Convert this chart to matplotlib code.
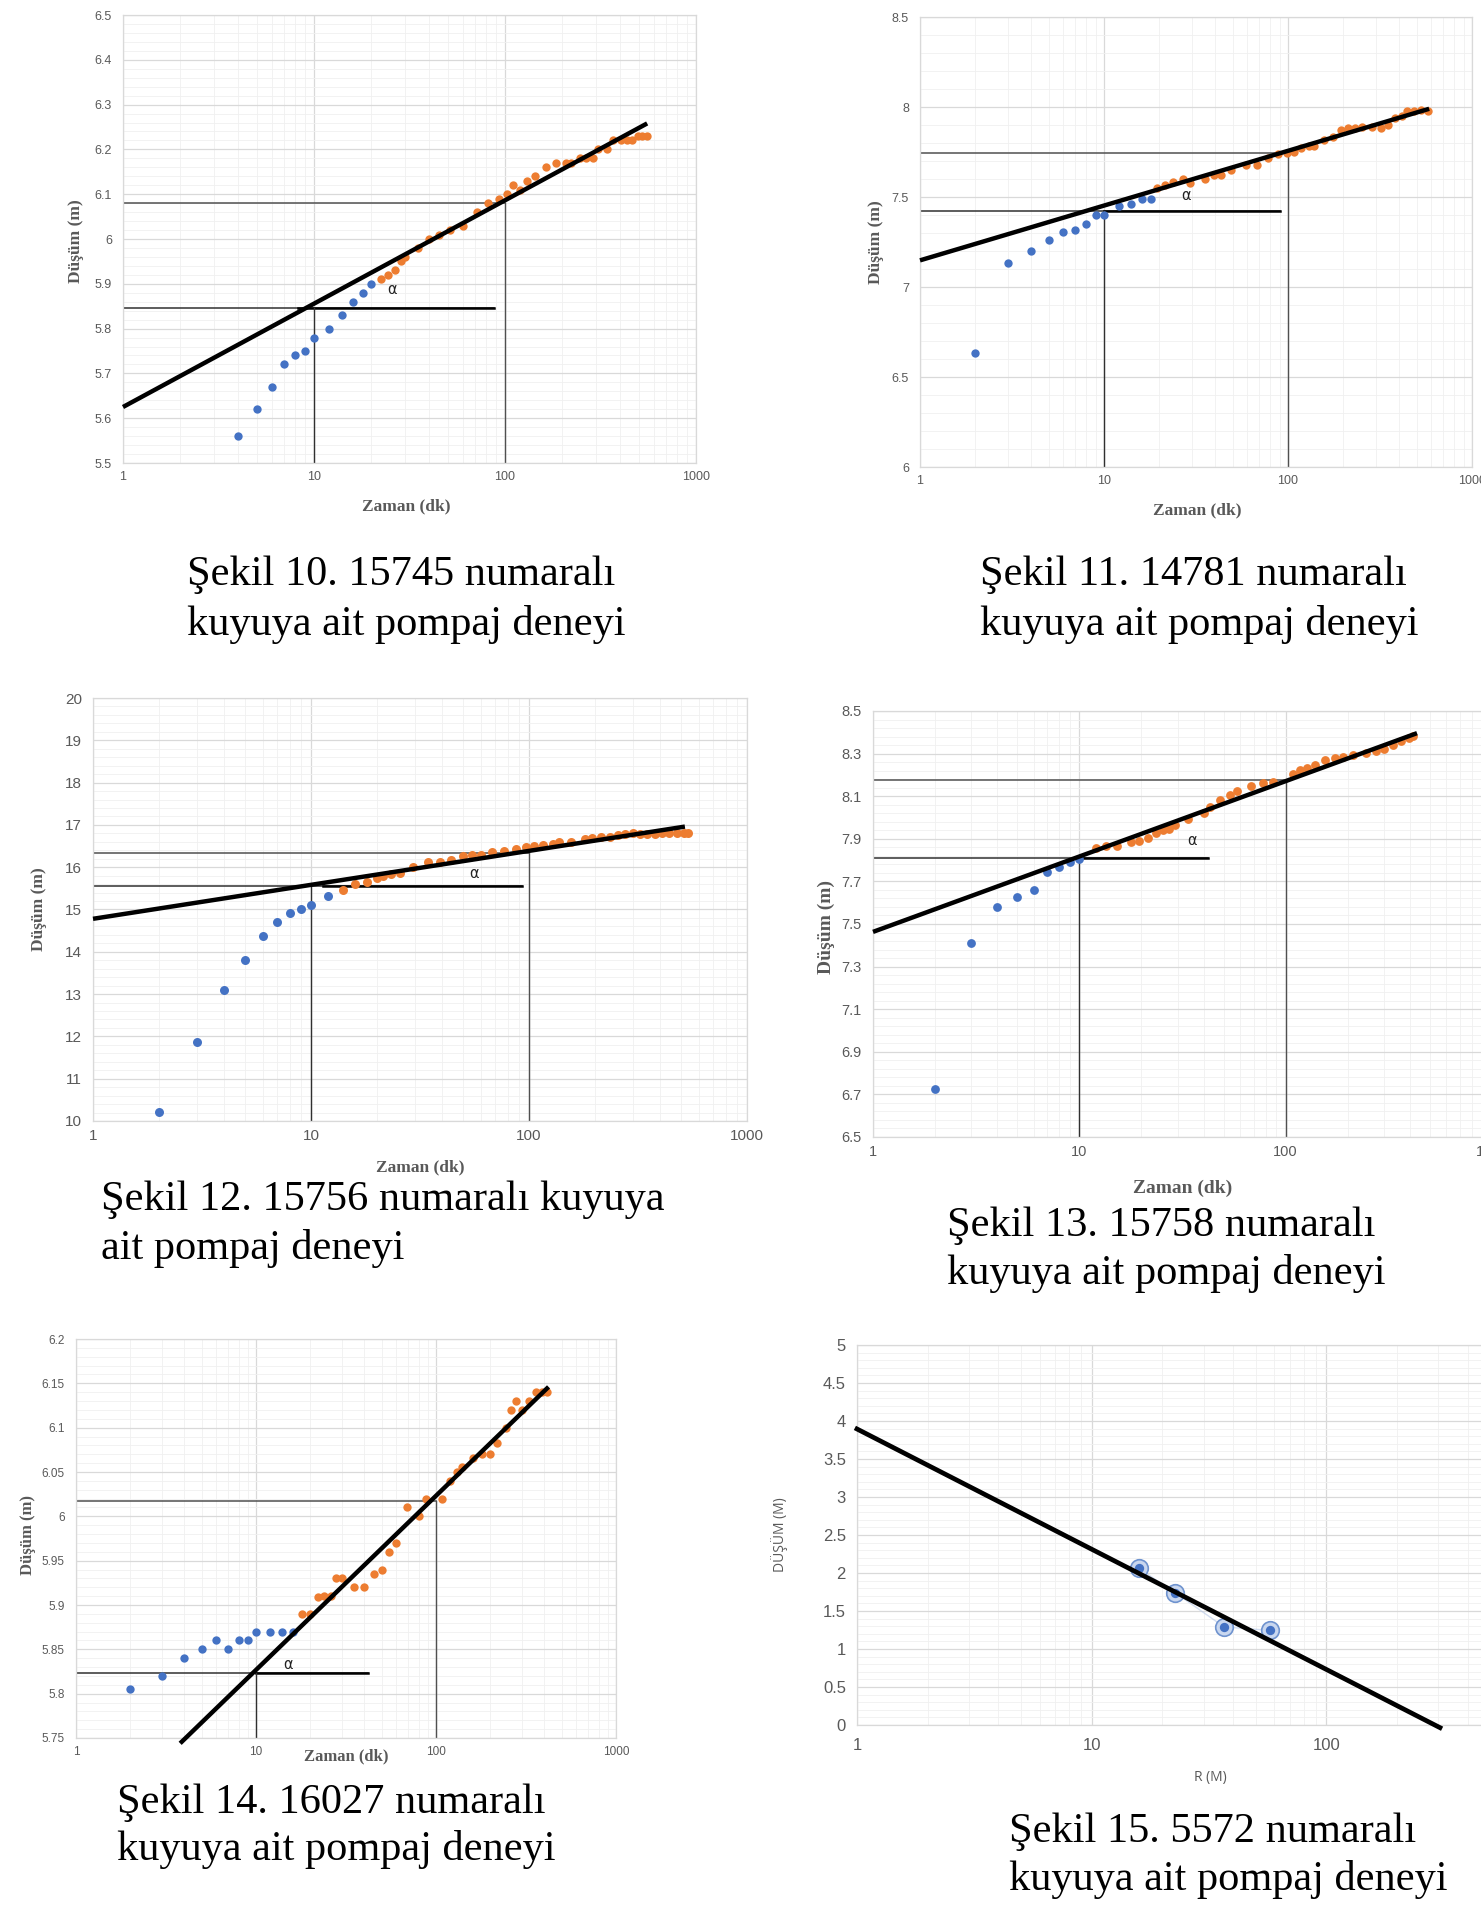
import numpy as np
import matplotlib
matplotlib.use("Agg")
import matplotlib.pyplot as plt
from matplotlib.ticker import (FixedLocator, LogLocator, NullFormatter,
                               FuncFormatter, AutoMinorLocator)

# --- Şekil 10 (kuyu 15745) ---
t10_early = [4, 5, 6, 7, 8, 9, 10, 12, 14, 16, 18, 20]
s10_early = [5.56, 5.62, 5.67, 5.72, 5.74, 5.75, 5.78, 5.80, 5.83, 5.86, 5.88, 5.90]
t10_late = [22.5, 24.4, 26.6, 28.4, 30, 35, 40, 45, 51.5, 60.5, 71, 81.5, 93, 102,
            110, 120, 130, 143, 164, 185, 208, 222, 247, 267, 288, 308, 344, 366,
            403, 434, 465, 495, 524, 555]
s10_late = [5.91, 5.92, 5.93, 5.95, 5.96, 5.98, 6.00, 6.01, 6.02, 6.03, 6.06, 6.08,
            6.09, 6.10, 6.12, 6.11, 6.13, 6.14, 6.16, 6.17, 6.17, 6.17, 6.18, 6.18,
            6.18, 6.20, 6.20, 6.22, 6.22, 6.22, 6.22, 6.23, 6.23, 6.23]
fit10_t = [1, 555]
fit10_s = [5.625, 6.258]

# --- Şekil 11 (kuyu 14781) ---
t11_early = [2, 3, 4, 5, 6, 7, 8, 9, 10, 12, 14, 16, 18]
s11_early = [6.635, 7.133, 7.20, 7.262, 7.303, 7.316, 7.348, 7.40, 7.40, 7.451,
             7.462, 7.487, 7.487]
t11_late = [19.5, 21.4, 23.8, 27, 29.5, 35.2, 39.6, 43.3, 48.7, 59, 68, 78, 88, 99,
            108, 118, 130, 139, 156, 176, 195, 213, 232, 254, 285, 321, 351, 383,
            418, 443, 484, 529, 578]
s11_late = [7.55, 7.567, 7.582, 7.60, 7.58, 7.60, 7.62, 7.62, 7.648, 7.676, 7.68,
            7.717, 7.74, 7.747, 7.75, 7.77, 7.785, 7.785, 7.817, 7.835, 7.873, 7.886,
            7.886, 7.89, 7.89, 7.886, 7.90, 7.94, 7.95, 7.98, 7.98, 7.985, 7.98]
fit11_t = [1, 585]
fit11_s = [7.148, 7.99]

# --- Şekil 12 (kuyu 15756) ---
t12_early = [2, 3, 4, 5, 6, 7, 8, 9, 10, 12]
s12_early = [10.21, 11.87, 13.09, 13.80, 14.37, 14.71, 14.92, 15.00, 15.11, 15.32]
t12_late = [14, 16, 18, 20, 21.4, 23.4, 25.7, 29.5, 34.3, 39, 43.7, 49.9, 55, 60,
            67.6, 77, 87, 97, 105, 116, 129, 137, 156, 180, 194, 214, 235, 257,
            277, 299, 324, 349, 377, 408, 440, 475, 513, 535]
s12_late = [15.45, 15.61, 15.65, 15.74, 15.79, 15.85, 15.86, 16.00, 16.12, 16.13,
            16.17, 16.26, 16.28, 16.28, 16.35, 16.38, 16.44, 16.47, 16.51, 16.53,
            16.55, 16.60, 16.60, 16.67, 16.69, 16.71, 16.72, 16.76, 16.78, 16.80,
            16.78, 16.78, 16.78, 16.80, 16.80, 16.80, 16.81, 16.81]
fit12_t = [1, 519]
fit12_s = [14.78, 16.96]

# --- Şekil 13 (kuyu 15758) ---
t13_early = [2, 3, 4, 5, 6, 7, 8, 9, 10]
s13_early = [6.725, 7.413, 7.58, 7.625, 7.66, 7.742, 7.768, 7.792, 7.803]
t13_late = [12, 13.5, 15.3, 17.8, 19.5, 21.6, 23.6, 25.3, 27.2, 29, 33.8, 40, 43,
            47.9, 53.7, 58, 68, 78, 86.5, 109, 118, 127, 138, 155, 173, 190, 213,
            246, 273, 298, 330, 362, 395, 416]
s13_late = [7.857, 7.868, 7.868, 7.883, 7.89, 7.903, 7.927, 7.939, 7.946, 7.965,
            7.993, 8.02, 8.048, 8.082, 8.104, 8.123, 8.147, 8.16, 8.166, 8.206,
            8.221, 8.234, 8.247, 8.271, 8.28, 8.284, 8.294, 8.303, 8.312, 8.322,
            8.34, 8.359, 8.374, 8.383]
fit13_t = [1, 433]
fit13_s = [7.463, 8.396]

# --- Şekil 14 (kuyu 16027) ---
t14_early = [2, 3, 4, 5, 6, 7, 8, 9, 10, 12, 14, 16]
s14_early = [5.805, 5.82, 5.84, 5.85, 5.86, 5.85, 5.86, 5.86, 5.87, 5.87, 5.87, 5.87]
t14_late = [18, 20, 22, 24, 26, 28, 30, 35, 40, 45, 50, 55, 60, 69, 80, 88, 108,
            119, 130, 139, 161, 181, 200, 217, 244, 260, 278, 301, 328, 361, 390, 416]
s14_late = [5.89, 5.89, 5.909, 5.91, 5.91, 5.93, 5.93, 5.92, 5.92, 5.935, 5.94,
            5.96, 5.97, 6.01, 6.00, 6.02, 6.02, 6.04, 6.05, 6.056, 6.066, 6.07,
            6.07, 6.083, 6.10, 6.12, 6.13, 6.12, 6.13, 6.14, 6.14, 6.14]
fit14_t = [3.79, 422]
fit14_s = [5.744, 6.146]

# --- Şekil 15 (kuyu 5572), mesafe-düşüm ---
r15 = [15.9, 22.7, 36.7, 57.6]
s15 = [2.06, 1.74, 1.29, 1.245]
fit15_r = [1, 305]
fit15_s = [3.895, -0.035]

W, H = 1481, 1926
BLUE = '#4472C4'
ORANGE = '#ED7D31'
GRAYTXT = '#595959'
SERIF = ['Liberation Serif', 'DejaVu Serif']
plt.rcParams['font.family'] = ['Liberation Sans Narrow', 'Liberation Sans', 'DejaVu Sans']

fig = plt.figure(figsize=(W / 100, H / 100), dpi=100)


def add_px_axes(left, top, right, bottom):
    return fig.add_axes([left / W, 1 - bottom / H, (right - left) / W, (bottom - top) / H])


def ftext(x, y, s, **kw):
    fig.text(x / W, 1 - y / H, s, **kw)


def style(ax, ylim, ystep, tsize):
    ax.set_xscale('log')
    ax.set_xlim(1, 1000)
    ax.set_ylim(*ylim)
    ax.xaxis.set_major_locator(FixedLocator([1, 10, 100, 1000]))
    ax.xaxis.set_minor_locator(LogLocator(base=10, subs=np.arange(2, 10)))
    ax.xaxis.set_minor_formatter(NullFormatter())
    ax.xaxis.set_major_formatter(FuncFormatter(lambda v, _: f'{v:g}'))
    yt = np.arange(ylim[0], ylim[1] + ystep / 2, ystep)
    ax.yaxis.set_major_locator(FixedLocator(yt))
    ax.yaxis.set_minor_locator(AutoMinorLocator(5))
    ax.yaxis.set_major_formatter(FuncFormatter(lambda v, _: f'{round(v, 4):g}'))
    ax.grid(which='major', color='#d9d9d9', lw=0.9)
    ax.grid(which='minor', color='#f0f0f0', lw=0.6)
    ax.set_axisbelow(True)
    for sp in ax.spines.values():
        sp.set_color('#d9d9d9')
        sp.set_linewidth(0.9)
    ax.tick_params(which='both', length=0, labelsize=tsize, labelcolor=GRAYTXT)
    ax.tick_params(axis='y', pad=8)
    ax.tick_params(axis='x', pad=6)


def pump_panel(ax, te, se, tl, sl, ft, fs, low, high, low_end, thick_from,
               alpha_at, ms=36):
    y0 = ax.get_ylim()[0]
    # construction lines for the slope
    ax.plot([1, 100], [high, high], color='#505050', lw=1.1)
    ax.plot([100, 100], [y0, high], color='#505050', lw=1.0)
    ax.plot([1, low_end], [low, low], color='#303030', lw=1.1)
    ax.plot([thick_from, low_end], [low, low], color='black', lw=1.8)
    ax.plot([10, 10], [y0, low], color='#303030', lw=1.0)
    ax.text(alpha_at[0], alpha_at[1], 'α', fontsize=10.5, color='#222222',
            ha='center', va='center', family='DejaVu Sans')
    ax.scatter(te, se, s=ms, color=BLUE, zorder=3, linewidths=0)
    ax.scatter(tl, sl, s=ms, color=ORANGE, zorder=3, linewidths=0)
    ax.plot(ft, fs, color='black', lw=3.2, zorder=4, solid_capstyle='butt',
            clip_on=False)


def serif_labels(xl, yl, size=12.5):
    ftext(*xl, 'Zaman (dk)', fontsize=size, fontweight='bold', family=SERIF,
          color=GRAYTXT, ha='center', va='center')
    ftext(*yl, 'Düşüm (m)', fontsize=size, fontweight='bold', family=SERIF,
          color=GRAYTXT, ha='center', va='center', rotation=90)


def caption(x, y1, y2, l1, l2):
    for y, s in ((y1, l1), (y2, l2)):
        ftext(x, y, s, fontsize=30.5, family=SERIF, color='black',
              ha='left', va='center')


# Şekil 10
ax1 = add_px_axes(123, 15, 696, 463)
style(ax1, (5.5, 6.5), 0.1, 9)
pump_panel(ax1, t10_early, s10_early, t10_late, s10_late, fit10_t, fit10_s,
           5.846, 6.08, 88, 8.2, (25.7, 5.887))
serif_labels((406, 506), (76, 241))
caption(187, 575, 624, 'Şekil 10. 15745 numaralı', 'kuyuya ait pompaj deneyi')

# Şekil 11
ax2 = add_px_axes(920, 17, 1472, 467)
style(ax2, (6, 8.5), 0.5, 9)
pump_panel(ax2, t11_early, s11_early, t11_late, s11_late, fit11_t, fit11_s,
           7.423, 7.745, 90, 10, (27.9, 7.507))
serif_labels((1197, 510), (876, 242))
caption(980, 575, 624, 'Şekil 11. 14781 numaralı', 'kuyuya ait pompaj deneyi')

# Şekil 12
ax3 = add_px_axes(93, 698, 747, 1121)
style(ax3, (10, 20), 1, 11)
pump_panel(ax3, t12_early, s12_early, t12_late, s12_late, fit12_t, fit12_s,
           15.56, 16.33, 93, 11.4, (56, 15.86), ms=42)
serif_labels((420, 1167), (39, 909))
caption(101, 1200, 1248, 'Şekil 12. 15756 numaralı kuyuya', 'ait pompaj deneyi')

# Şekil 13
ax4 = add_px_axes(873, 711, 1492, 1137)
style(ax4, (6.5, 8.5), 0.2, 10.5)
pump_panel(ax4, t13_early, s13_early, t13_late, s13_late, fit13_t, fit13_s,
           7.812, 8.178, 42, 10, (35, 7.894), ms=40)
serif_labels((1183, 1188), (826, 927), size=14)
caption(947, 1226, 1273, 'Şekil 13. 15758 numaralı', 'kuyuya ait pompaj deneyi')

# Şekil 14
ax5 = add_px_axes(76, 1339, 616, 1738)
style(ax5, (5.75, 6.2), 0.05, 8.5)
pump_panel(ax5, t14_early, s14_early, t14_late, s14_late, fit14_t, fit14_s,
           5.823, 6.017, 42, 10, (15, 5.833))
serif_labels((346, 1756), (28, 1535), size=12)
caption(117, 1803, 1849, 'Şekil 14. 16027 numaralı', 'kuyuya ait pompaj deneyi')

# Şekil 15 - distance vs drawdown
ax6 = add_px_axes(857, 1345, 1561, 1725)
style(ax6, (0, 5), 0.5, 12)
ax6.tick_params(axis='x', pad=9)
ax6.plot(r15, s15, color='#b4c7e7', lw=1.0, alpha=0.6, zorder=2)
ax6.scatter(r15, s15, s=160, facecolor='#c9d7ef', edgecolor='#6f93cf',
            linewidths=1.2, zorder=3)
ax6.scatter(r15, s15, s=45, color=BLUE, zorder=4, linewidths=0)
ax6.plot(fit15_r, fit15_s, color='black', lw=3.4, zorder=5, clip_on=False)
ftext(1210, 1777, 'R (M)', fontsize=10, color=GRAYTXT, ha='center', va='center',
      family=['Open Sans', 'DejaVu Sans'])
ftext(780, 1535, 'DÜŞÜM (M)', fontsize=10, color=GRAYTXT, ha='center',
      va='center', rotation=90, family=['Open Sans', 'DejaVu Sans'])
caption(1009, 1832, 1879, 'Şekil 15. 5572 numaralı', 'kuyuya ait pompaj deneyi')

fig.savefig('out.png', dpi=100)
